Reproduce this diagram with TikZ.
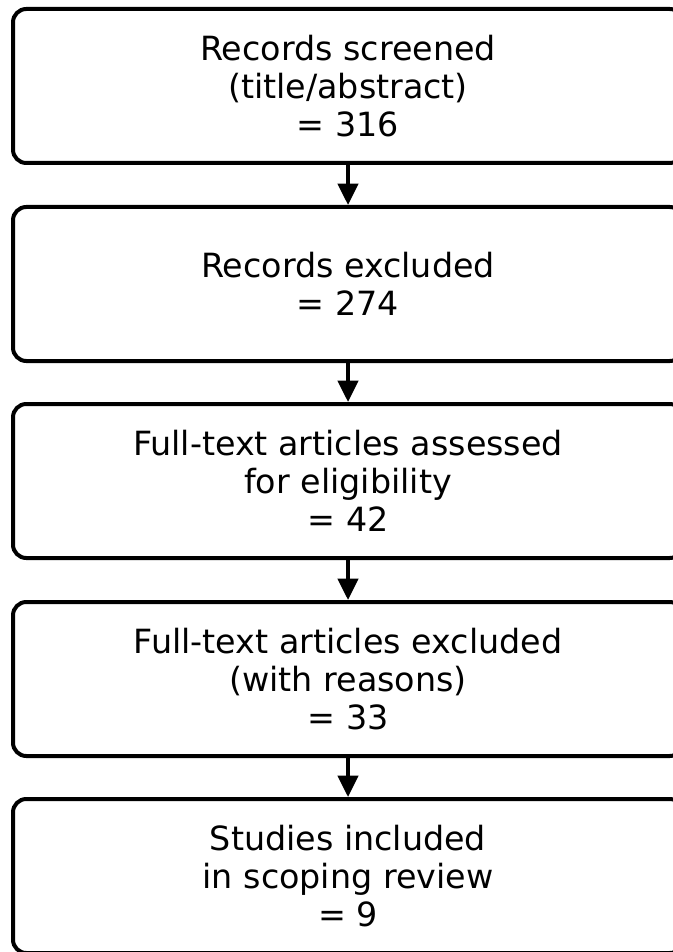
\documentclass[tikz,border=0pt]{standalone}
\usepackage{fontspec}
\setmainfont{DejaVu Sans}
\usetikzlibrary{arrows.meta}

\begin{document}
\begin{tikzpicture}[x=0.75pt, y=-0.75pt,
    stagebox/.style={draw=black, line width=3pt, rounded corners=10pt, fill=white,
      minimum width=502.5pt, minimum height=115.5pt, align=center,
      font=\fontsize{25}{28.5}\selectfont},
    flowarrow/.style={line width=3pt, -{Triangle[width=15pt, length=16pt]}}]
  % Fix the page size to the reference and cut off what runs past it
  \useasboundingbox (0,0) rectangle (673,952);
  \clip (0,0) rectangle (673,952);

  \node[stagebox] (screened) at (348,86) {Records screened\\(title/abstract)\\= 316};
  \node[stagebox] (excluded) at (348,284) {Records excluded\\= 274};
  \node[stagebox] (assessed) at (348,481) {Full-text articles assessed\\for eligibility\\= 42};
  \node[stagebox] (textexcl) at (348,679) {Full-text articles excluded\\(with reasons)\\= 33};
  \node[stagebox] (included) at (348,876) {Studies included\\in scoping review\\= 9};

  \draw[flowarrow] (screened) -- (excluded);
  \draw[flowarrow] (excluded) -- (assessed);
  \draw[flowarrow] (assessed) -- (textexcl);
  \draw[flowarrow] (textexcl) -- (included);
\end{tikzpicture}
\end{document}
